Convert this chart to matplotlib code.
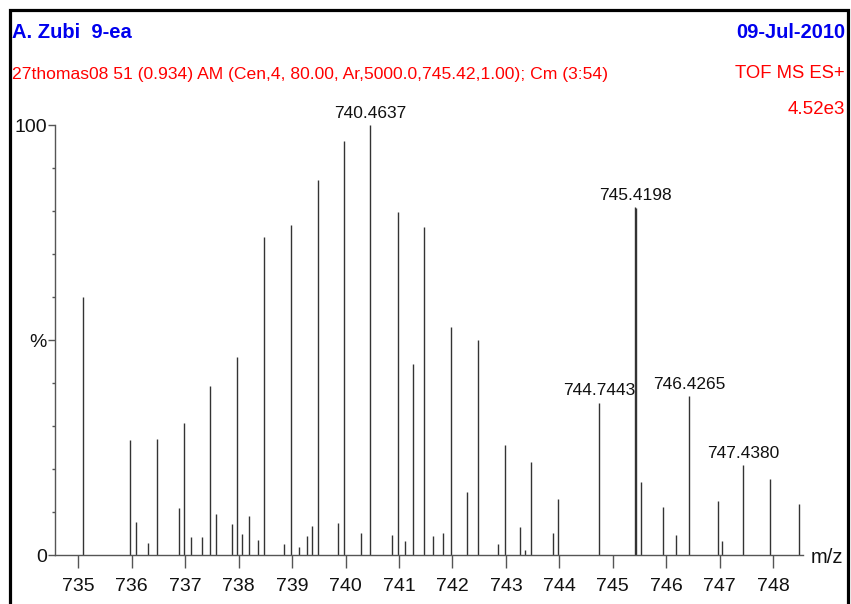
import matplotlib
matplotlib.use("Agg")
import matplotlib.pyplot as plt
from matplotlib.ticker import MultipleLocator, FixedLocator
from matplotlib.patches import Rectangle

plt.rcParams['font.family'] = ['Liberation Sans Narrow', 'Liberation Sans', 'DejaVu Sans']

# ---- data (m/z, relative intensity %) ----
mz = [735.08, 735.967, 736.08, 736.31, 736.48, 736.88, 736.97, 737.11, 737.31, 737.47,
      737.58, 737.87, 737.97, 738.07, 738.19, 738.36, 738.48, 738.84, 738.98, 739.13,
      739.28, 739.38, 739.48, 739.85, 739.97, 740.28, 740.4637, 740.86, 740.975, 741.12,
      741.27, 741.47, 741.63, 741.83, 741.98, 742.28, 742.48, 742.85, 742.98, 743.27,
      743.36, 743.47, 743.875, 743.975, 744.7443, 745.4198, 745.435, 745.52, 745.94, 746.18,
      746.4265, 746.96, 747.05, 747.4380, 747.94, 748.48]
intensity = [60.0, 26.8, 7.8, 2.8, 27.0, 10.9, 30.7, 4.3, 4.2, 39.4,
             9.7, 7.3, 46.2, 5.0, 9.1, 3.6, 74.1, 2.6, 76.8, 1.9,
             4.5, 6.7, 87.2, 7.4, 96.3, 5.2, 100.0, 4.8, 79.8, 3.3,
             44.4, 76.4, 4.6, 5.1, 53.0, 14.8, 50.1, 2.6, 25.7, 6.5,
             1.2, 21.6, 5.1, 13.2, 35.5, 80.9, 80.7, 17.1, 11.2, 4.7,
             37.0, 12.6, 3.4, 21.0, 17.7, 11.9]
label_mz = [740.4637, 744.7443, 745.4198, 746.4265, 747.4380]
label_text = ["740.4637", "744.7443", "745.4198", "746.4265", "747.4380"]
x_ticks = list(range(735, 749))
y_major = [0, 50, 100]
y_major_labels = ["0", "%", "100"]

title_left = "A. Zubi  9-ea"
title_right = "09-Jul-2010"
info_left = "27thomas08 51 (0.934) AM (Cen,4, 80.00, Ar,5000.0,745.42,1.00); Cm (3:54)"
info_right = "TOF MS ES+"
scale_text = "4.52e3"

W, H = 851, 604
fig = plt.figure(figsize=(W / 100, H / 100), dpi=100)
fig.patch.set_facecolor('white')

def fx(px):
    return px / W

def fy(py):
    return 1 - py / H

# border frame
fig.patches.append(Rectangle((fx(9.5), fy(640)), fx(848) - fx(9.5), fy(9.5) - fy(640),
                             transform=fig.transFigure, fill=False, lw=2.3,
                             edgecolor='black', clip_on=False))

ax = fig.add_axes([fx(55), fy(555.3), fx(803.3) - fx(55), fy(125.3) - fy(555.3)])
ax.set_xlim(734.564, 748.564)
ax.set_ylim(0, 100)

ax.vlines(mz, 0, intensity, colors='#333333', lw=1.0)

for m, t in zip(label_mz, label_text):
    h = intensity[mz.index(m)]
    ax.annotate(t, xy=(m, h), xytext=(0, 3), textcoords='offset points',
                ha='center', va='bottom', fontsize=12.5, color='#111111',
                annotation_clip=False)

for s in ['top', 'right']:
    ax.spines[s].set_visible(False)
for s in ['left', 'bottom']:
    ax.spines[s].set_color('#555555')
    ax.spines[s].set_linewidth(1.0)

ax.set_xticks(x_ticks)
ax.set_xticklabels([str(v) for v in x_ticks])
ax.tick_params(axis='x', direction='out', length=9.5, width=1.0, color='#555555',
               pad=6.5, labelsize=14, labelcolor='#111111')
ax.yaxis.set_major_locator(FixedLocator(y_major))
ax.set_yticklabels(y_major_labels)
ax.yaxis.set_minor_locator(MultipleLocator(10))
ax.tick_params(axis='y', which='major', direction='out', length=5, width=1.0,
               color='#555555', pad=1, labelsize=14, labelcolor='#111111')
ax.tick_params(axis='y', which='minor', direction='out', length=2.5, width=1.0,
               color='#555555')

ax.text(1.0 + 7 / (803.3 - 55), -0.005, "m/z", transform=ax.transAxes, fontsize=14.5,
        color='#111111', ha='left', va='center', clip_on=False)

# header texts
fig.text(fx(12), fy(32), title_left, color='#0000ee', fontsize=14.5, fontweight='bold',
         ha='left', va='center')
fig.text(fx(845), fy(32), title_right, color='#0000ee', fontsize=14.5, fontweight='bold',
         ha='right', va='center')
fig.text(fx(12), fy(74), info_left, color='#ff0000', fontsize=12.6,
         ha='left', va='center')
fig.text(fx(845), fy(74), info_right, color='#ff0000', fontsize=13.3,
         ha='right', va='center')
fig.text(fx(845), fy(109), scale_text, color='#ff0000', fontsize=13.5,
         ha='right', va='center')

fig.savefig("out.png", dpi=100, facecolor='white')
